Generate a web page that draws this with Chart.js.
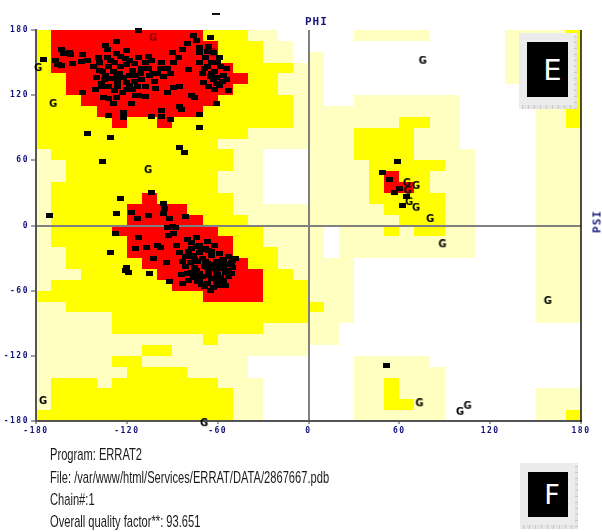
<!DOCTYPE html>
<html><head><meta charset="utf-8">
<script src="https://cdn.jsdelivr.net/npm/chart.js@4.4.1/dist/chart.umd.min.js"></script>
<style>
html,body{margin:0;padding:0;background:#fff;}
#wrap{position:relative;width:602px;height:532px;overflow:hidden;background:#fff;}
#c{position:absolute;left:0;top:0;}
.axlbl{position:absolute;font-family:'DejaVu Sans Mono',monospace;font-weight:bold;color:#15157f;font-size:11px;line-height:11px;letter-spacing:1px;white-space:nowrap;}
.info{position:absolute;left:50px;font-family:'Liberation Sans Narrow','Arial Narrow','Liberation Sans',sans-serif;font-size:17px;line-height:17px;color:#1a1a1a;white-space:nowrap;transform-origin:0 50%;}
.panel{position:absolute;background:#ececec;}
.panel .ink{position:absolute;background:#000;color:#fff;font-family:'DejaVu Sans',sans-serif;display:flex;align-items:center;justify-content:center;}
.panel .rb{position:absolute;left:3px;right:0;bottom:0;height:4px;background:repeating-linear-gradient(90deg,#c8c8c8 0 1px,#e4e4e4 1px 6px);}
.panel .rr{position:absolute;top:3px;right:0;bottom:0;width:3px;background:repeating-linear-gradient(180deg,#c8c8c8 0 1px,#e4e4e4 1px 6px);}
</style></head>
<body><div id="wrap">
<canvas id="c" width="602" height="532"></canvas>
<div style="position:absolute;left:212px;top:13px;width:8px;height:2px;background:#111;"></div>
<div class="axlbl" style="left:305px;top:16px;">PHI</div>
<div class="axlbl" style="left:580px;top:216px;transform:rotate(-90deg);transform-origin:50% 50%;width:34px;text-align:center;">PSI</div>
<div class="panel" style="left:519px;top:33px;width:58px;height:76px;">
  <div class="ink" style="left:8px;top:9px;width:41px;height:55px;font-size:29px;padding-left:10px;box-sizing:border-box;">E</div>
  <div class="rb"></div><div class="rr"></div>
</div>
<div class="panel" style="left:520px;top:463px;width:58px;height:66px;">
  <div class="ink" style="left:8px;top:9px;width:40px;height:45px;font-size:27px;padding-left:8px;box-sizing:border-box;">F</div>
  <div class="rb"></div><div class="rr"></div>
</div>
<div class="info" id="l1" style="top:446px;">Program: ERRAT2</div>
<div class="info" id="l2" style="top:469px;">File: /var/www/html/Services/ERRAT/DATA/2867667.pdb</div>
<div class="info" id="l3" style="top:491px;">Chain#:1</div>
<div class="info" id="l4" style="top:513px;">Overall quality factor**: 93.651</div>
</div>
<script>
// ---- tick labels ----
const phiTicks = [-180, -120, -60, 0, 60, 120, 180];
const psiTicks = [-180, -120, -60, 0, 60, 120, 180];

// ---- Ramachandran region map: 36 rows (psi 180 -> -180) x 36 cols (phi -180 -> 180), 10 deg cells
// R = most favoured, Y = additional allowed, P = generously allowed, W = disallowed
const regionRows = [
  "YRRRRRRRRRRYYYPPWWWWWPPPPPWWWWWPPPPY",
  "YRRRRRRRRRRRYYYPPWWWWWWWWWWWWWWPPPPY",
  "YRRRRRRRRRRRYYYPPWPWWWWWWWWWWWWPPPPY",
  "YRRRRRRRRRRRRYYYYPPWWWWWWWWWWWWPPPPY",
  "YYRRRRRRRRRRRRYYPPPWWWWWWWWWWWWPPPPY",
  "YYRRRRRRRRRRRYYYPPPWWWWWWWWWWWWWPPPY",
  "YYYRRRRRRRRRYYYYYPPWWPPPPPPPWWWWPPPY",
  "YYYYRRRRRRRYYYYYYPPPPPPPPPPPWWWWWPPY",
  "YYYYYRYYRYYYYYYYYPPPPPPPYYPPWWWWWPPY",
  "YYYYYYYYYYYYYYPPPPPPPYYYYPPPWWWWWPPP",
  "YYYYYYYYYYYYPPPPPPPPPYYYYPPPWWWWWPPP",
  "PYYYYYYYYYYYYPPWWWPPPYYYYPPPPWWWWPPP",
  "PPYYYYYYYYYYYPPWWWPPPPYYYYYPPWWWWPPP",
  "PPYYYYYYYYYYPPPWWWPPPPYRYYPPPWWWWPPP",
  "PYYYYYYYYYYYPPPWWWPPPPYRRYPPPWWWWPPP",
  "PYYYYYYRYYYYYPPWWWPPPPYYYYYPPWWWWPPP",
  "PYYYYYRRRRYYYPPPPPPPPPPYYYYPPWWWWPPP",
  "PYYYYYRRRRRYYYPPPPPPPPPPYYYPPWWWWPPP",
  "PYYYYRRRRRRRYYYPPPPWPPPYPYYPPWWWWPPP",
  "PYYYYYRRRRRRRYYPPPPWPPPPPPPPPWWWWPPP",
  "PPYYYYRRRRRRRYYYPPPWPPPPPPPPPWWWWPPP",
  "PPYYYYYRRRRRRRYYPPPPPWWWWWWWWWWWWPPP",
  "PPPYYYYYRRRRRRRYYPPPPWWWWWWWWWWWWPPP",
  "PYYYYYYYYRRRRRRYYYPPPWWWWWWWWWWWWPPP",
  "YYYYYYYYYYYRRRRYYYPPPWWWWWWWWWWWWPPP",
  "PPYYYYYYYYYYYYYYYYYPPWWWWWWWWWWWWPPP",
  "PPPPPYYYYYYYYYYYYYPPPWWWWWWWWWWWWPPP",
  "PPPPPYYYYYYYYYYPPPPPWWWWWWWWWWWWWWWW",
  "PPPPPPPPPPPYPPPPPPPPWWWWWWWWWWWWWWWW",
  "PPPPPPPYYPPPPPPPPPWWWWWWWWWWWWWWWWWW",
  "PPPPPYYPPPPPPPWWWWWWWPPPPPWWWWWWWWWW",
  "PPPPPPYYYYPPPPWWWWWWWPPPPPPWWWWWWWWW",
  "PYYYPYYYYYYYPPPWWWWWWPPYPPPWWWWWWWWW",
  "PYYYYYYYYYYYYPPWWWWWWPPYPPPWWWWWWPPP",
  "PYYYYYYYYYYYYPPWWWWWWPPYYPPWWWWWWPPP",
  "YYYYYYYYYYYYYPPWWWWWWPPPPPPWWWWWWPPY"
];

// ---- residues (phi, psi) ----
const betaResidues = [
  [-112.6,180],[-76,175],[-65,173],[-126.5,169],[-80,168],[-71.7,164],[-175,153],[-167,151.5],
  [-163,161.6],[-158,159],[-149,157],[-156,149],[-165,148],[-150,151],[-139,155],[-134,166],
  [-133,162],[-120,161],[-112.6,155],[-106,156],[-90,159],[-71.7,159],[-67,160],[-63,159],
  [-79,144],[-89.5,150],[-138,143],[-132,146],[-126.5,137],[-120,148],[-116,143],[-111,140],
  [-106,145],[-103,140],[-96,137],[-67,146],[-65,137],[-60.5,136],[-54,145],[-54,134],
  [-69.5,132],[-63,134],[-58.5,129],[-53,124],[-149,122],[-141,125],[-136.5,131],[-135.7,118],
  [-132,117],[-128,124],[-123,122],[-118,129],[-114.6,120],[-108,119],[-101,125.7],[-93,122],
  [-89.5,126.6],[-85.5,128],[-77.6,120],[-75,118],[-60.5,112],[-129,112],[-117,112],[-131.8,101.7],
  [-122.5,104.5],[-122.5,99],[-96.8,106],[-85,110],[-83.6,107],[-104,100],[-97,100],[-91,98],
  [-71.7,102.6],[-72,90.6],[-146,85],[-131,80.6],[-85,72],[-81.6,67.5],[-135.8,58.5],
  [-162,158],[-157.5,157],[-165.5,148],[-163,147],
  [-128,150],[-125,140],[-122,136],[-118,138],[-115,133],[-130,135],[-134,138],[-137,128],
  [-126,128],[-120,125],[-113,128],[-110,134],[-108,150],[-104,152],[-97,150],[-100,140],
  [-93,145],[-86,155],[-118,152],[-124,156],[-131,152],[-136,142],[-140,136],[-127,118],
  [-112,120],[-66,128],[-62,125],[-64,150],[-58,146],[-70,140],[-68,155],[-62,142],[-56,138],[-60,150],
  [-138,150],[-133,155],[-127,158],[-121,154],[-115,149],[-110,145],[-105,138],[-114,138],
  [-124,146],[-129,142],[-135,134],[-142,146],[-146,152],[-120,132],[-126,133],[-132,128],
  [-116,125],[-108,128],[-102,133],[-98,145],[-91,140],[-61,131],[-57,133],[-64,140],
  [-69,145],[-72,150],[-59,155],[-66,165],[-74,170],[-83,162]
];
const alphaResidues = [
  [-171,9.6],[-126.6,10.6],[-116.6,12.4],[-113,6.8],[-106,9.6],[-96,20],[-94.8,16],[-96,11.5],
  [-91.5,6.8],[-81,8],[-93,-1.4],[-88,-1.4],[-103.4,30],[-124,25],
  [-127.8,-7.8],[-131,-24.4],[-120,-39],[-119,-43],[-121,-41],[-114.6,-21],[-112,-11.5],[-107,-20],
  [-104.7,-43.8],[-102.7,-30],[-100,-18],[-98,-20],[-93.5,-34.5],[-91.5,-52],[-92.8,-8.8],[-90,-0.5],
  [-89.5,-7],[-87,-18],[-83,-53],[-83.6,-44.7],[-85,-25],[-80,-13],[-73.7,-10.6],[-80,-29],
  [-77,-21],[-71.7,-18],[-67,-15],[-73,-45.6],[-71.7,-50],[-66.4,-53],[-60,-53],[-60.5,-47.5],
  [-50,-32],[-54,-41],
  [-74,-19],[-68,-21],[-62,-18],[-79,-24],[-72,-25],[-66,-23],[-59,-26],
  [-81,-29],[-76,-28],[-70,-30],[-64,-28],[-57,-31],[-53,-29],
  [-78,-34],[-73,-33],[-67,-35],[-61,-33],[-55,-36],[-51,-34],
  [-81,-38],[-75,-39],[-69,-38],[-63,-40],[-58,-38],[-53,-41],
  [-78,-43],[-72,-44],[-66,-42],[-60,-45],[-55,-43],[-50,-39],
  [-76,-48],[-70,-47],[-64,-49],[-58,-48],[-53,-47],
  [-73,-52],[-67,-53],[-61,-52],[-56,-51],
  [-69,-56],[-63,-57],[-58,-55],
  [-77,-16],[-71,-22],[-64,-24],[-83,-33],[-75,-31],[-68,-33],[-62,-36],[-56,-33],
  [-80,-44],[-74,-41],[-67,-39],[-61,-42],[-56,-40],[-51,-44],[-79,-51],[-72,-49],
  [-66,-46],[-60,-50],[-55,-55],[-65,-60],[-71,-54],[-52,-36],[-48,-30]
];
const leftAlphaResidues = [
  [58.9,58.7],[49.2,49],[53.8,42.6],[60.4,34.5],[57,30],[65,27],[62.4,18],[51.6,-129]
];
// glycines (drawn as "G")
const glycines = [
  [-178.6,145],[-168.7,112],[-106,51],[-175.4,-161.6],[-69,-182],[75.4,151.7],
  [65,39],[71,36.5],[65.5,32],[66.4,21.6],[71,16.4],[80.3,6],[88.4,-17.3],
  [158,-69.5],[73.2,-163.7],[100,-171.5],[105,-166]
];
const glycinesInCore = [
  [-102.7,172.6],[-63.3,158.5],[-162,159],[-137.7,144]
];

const regionColors = {R:'#ff0000', Y:'#ffff00', P:'#ffffc2'};

function toXY(list){ return list.map(p => ({x:p[0], y:p[1]})); }

function rectMarker(){
  const c = document.createElement('canvas'); c.width = 7; c.height = 5;
  const g = c.getContext('2d'); g.fillStyle = '#000'; g.fillRect(0,0,7,5);
  return c;
}
function gMarker(color){
  const c = document.createElement('canvas'); c.width = 10; c.height = 10;
  const g = c.getContext('2d'); g.fillStyle = color;
  g.font = 'bold 10px "DejaVu Sans"'; g.textAlign = 'center'; g.textBaseline = 'middle';
  g.fillText('G', 5, 5.5);
  return c;
}

const regionPlugin = {
  id: 'regions',
  beforeDraw(chart){
    const {ctx, scales:{x, y}} = chart;
    ctx.save();
    regionRows.forEach((row, j) => {
      const psiTop = 180 - 10*j;
      const y0 = Math.round(y.getPixelForValue(psiTop));
      const y1 = Math.round(y.getPixelForValue(psiTop - 10));
      for (let i = 0; i < row.length; i++){
        const col = regionColors[row[i]];
        if (!col) continue;
        const phiL = -180 + 10*i;
        const x0 = Math.round(x.getPixelForValue(phiL));
        const x1 = Math.round(x.getPixelForValue(phiL + 10));
        ctx.fillStyle = col;
        ctx.fillRect(x0, y0, x1 - x0, y1 - y0);
      }
    });
    ctx.restore();
    ctx.letterSpacing = '1.5px';
  },
  afterDraw(chart){
    const {ctx, chartArea:a} = chart;
    ctx.save();
    ctx.letterSpacing = '0px';
    ctx.strokeStyle = '#111'; ctx.lineWidth = 1.5;
    ctx.beginPath(); ctx.moveTo(a.right, a.top); ctx.lineTo(a.right, a.bottom + 1); ctx.stroke();
    ctx.restore();
  }
};

const tickFont = {family:'"DejaVu Sans Mono", monospace', size:8, weight:'bold'};
const zeroGrid = ctx => (ctx.tick && ctx.tick.value === 0) ? '#808080' : 'rgba(0,0,0,0)';

new Chart(document.getElementById('c'), {
  type: 'scatter',
  data: {
    datasets: [
      {data: toXY(betaResidues), pointStyle: rectMarker(), clip: false},
      {data: toXY(alphaResidues), pointStyle: rectMarker(), clip: false},
      {data: toXY(leftAlphaResidues), pointStyle: rectMarker(), clip: false},
      {data: toXY(glycines), pointStyle: gMarker('#000'), clip: false},
      {data: toXY(glycinesInCore), pointStyle: gMarker('#8b0000'), clip: false}
    ]
  },
  options: {
    responsive: false, animation: false, devicePixelRatio: 1, events: [],
    layout: {padding: {top: 30, right: 21, left: 0, bottom: 0}},
    plugins: {legend: {display: false}, tooltip: {enabled: false}},
    scales: {
      x: {
        type: 'linear', position: 'bottom', min: -180, max: 180,
        afterFit(s){ s.height = 111; },
        afterBuildTicks(s){ s.ticks = phiTicks.map(v => ({value: v})); },
        ticks: {color: '#12127a', font: tickFont, padding: 2, maxRotation: 0, autoSkip: false, callback: v => String(v)},
        grid: {color: zeroGrid, lineWidth: 2, drawTicks: true, tickLength: 3, tickColor: '#444', tickWidth: 1},
        border: {display: true, color: '#555', width: 2}
      },
      y: {
        type: 'linear', position: 'left', min: -180, max: 180,
        afterFit(s){ s.width = 36; },
        afterBuildTicks(s){ s.ticks = psiTicks.map(v => ({value: v})); },
        ticks: {color: '#12127a', font: tickFont, padding: 2, autoSkip: false, callback: v => String(v)},
        grid: {color: zeroGrid, lineWidth: 2, drawTicks: true, tickLength: 5, tickColor: '#444', tickWidth: 1},
        border: {display: true, color: '#555', width: 2}
      }
    }
  },
  plugins: [regionPlugin]
});

// condense the caption text to the reference width
(function(){
  const ref = document.getElementById('l2');
  const w = ref.getBoundingClientRect().width;
  const s = 279 / w;
  ['l1','l2','l3','l4'].forEach(id => {
    document.getElementById(id).style.transform = 'scaleX(' + s.toFixed(3) + ')';
  });
})();
</script>
</body></html>
